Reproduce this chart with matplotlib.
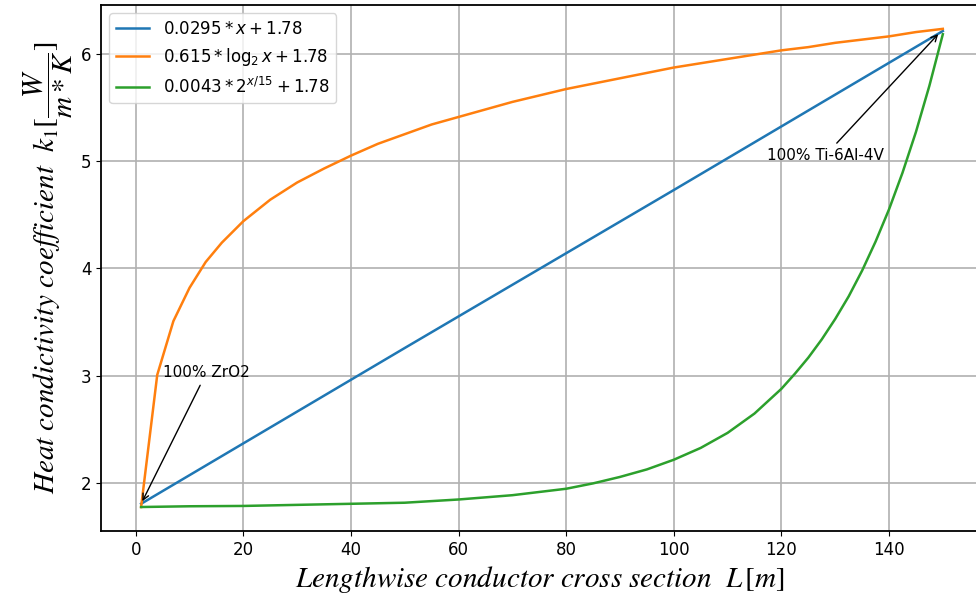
import matplotlib
matplotlib.use('Agg')
import matplotlib.pyplot as plt
from matplotlib.font_manager import FontProperties

# values
x_lin = [1, 50, 100, 150]
y_lin = [1.81, 3.26, 4.73, 6.21]

x_log = [1, 4, 7, 10, 13, 16, 18, 20, 22, 25, 30, 35, 40, 45, 50, 55, 60,
         65, 70, 75, 80, 85, 90, 95, 100, 105, 110, 115, 120, 125, 130, 135,
         140, 145, 150]
y_log = [1.78, 3.01, 3.51, 3.82, 4.06, 4.24, 4.34, 4.44, 4.52, 4.64, 4.80,
         4.93, 5.05, 5.16, 5.25, 5.34, 5.41, 5.48, 5.55, 5.61, 5.67, 5.72,
         5.77, 5.82, 5.87, 5.91, 5.95, 5.99, 6.03, 6.06, 6.10, 6.13, 6.16,
         6.20, 6.23]

x_exp = [1, 10, 20, 30, 40, 50, 60, 70, 80, 85, 90, 95, 100, 105, 110, 115,
         120, 122.5, 125, 127.5, 130, 132.5, 135, 137.5, 140, 142.5, 145,
         147.5, 150]
y_exp = [1.78, 1.787, 1.79, 1.80, 1.81, 1.82, 1.85, 1.89, 1.95, 2.00, 2.06,
         2.13, 2.22, 2.33, 2.47, 2.65, 2.88, 3.02, 3.17, 3.34, 3.53, 3.74,
         3.98, 4.25, 4.55, 4.89, 5.27, 5.70, 6.18]

labels = [r'$0.0295*x + 1.78$',
          r'$0.615*\log_2 x + 1.78$',
          r'$0.0043*2^{x/15} + 1.78$']

fig = plt.figure(figsize=(9.76, 5.95), dpi=100)
# right edge of the axes runs just past the picture, as in the (cropped) original
ax = fig.add_axes([0.1035, 0.1076, 0.9, 0.884])

ax.plot(x_lin, y_lin, color='#1f77b4', lw=1.8, label=labels[0])
ax.plot(x_log, y_log, color='#ff7f0e', lw=1.8, label=labels[1])
ax.plot(x_exp, y_exp, color='#2ca02c', lw=1.8, label=labels[2])

ax.set_xlim(-6.45, 156.8)
ax.set_ylim(1.557, 6.452)
ax.set_xticks([0, 20, 40, 60, 80, 100, 120, 140])
ax.set_yticks([2, 3, 4, 5, 6])
ax.tick_params(labelsize=12)
ax.grid(True, color='#b0b0b0', lw=1.2)
for s in ax.spines.values():
    s.set_linewidth(1.3)

ax.annotate('100% ZrO2', xy=(1, 1.81), xytext=(5.1, 2.99), fontsize=11,
            arrowprops=dict(arrowstyle='->', color='black', lw=1))
ax.annotate('100% Ti-6Al-4V', xy=(149.5, 6.2), xytext=(117.3, 5.01), fontsize=11,
            arrowprops=dict(arrowstyle='->', color='black', lw=1))

ax.legend(loc='upper left', prop=FontProperties(size=12))

stix = FontProperties(size=21, math_fontfamily='stix')
ax.set_xlabel(r'$Lengthwise\ conductor\ cross\ section\ \ L\,[m]$',
              fontproperties=stix)
ax.set_ylabel(r'$Heat\ condictivity\ coefficient\ \ k_1[\dfrac{W}{m*K}]$',
              fontproperties=FontProperties(size=21, math_fontfamily='stix'))

fig.savefig('out.png', dpi=100)
